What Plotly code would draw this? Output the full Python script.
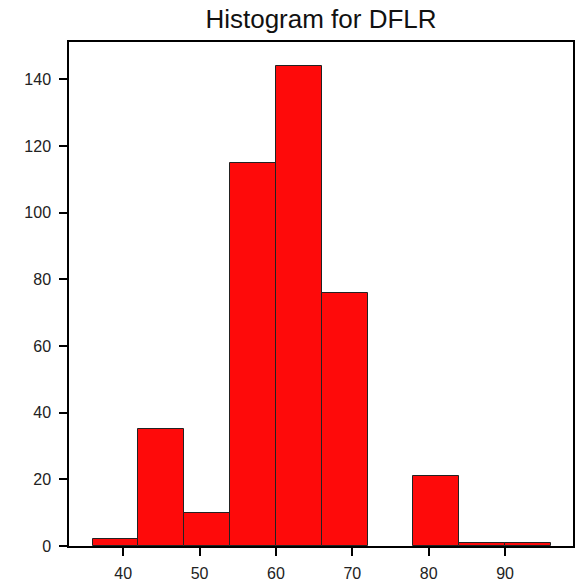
import plotly.graph_objects as go

bin_edges = [36, 42, 48, 54, 60, 66, 72, 78, 84, 90, 96]
counts = [2, 35, 10, 115, 144, 76, 0, 21, 1, 1]
x_ticks = [40, 50, 60, 70, 80, 90]
y_ticks = [0, 20, 40, 60, 80, 100, 120, 140]

centers = [(a + b) / 2 for a, b in zip(bin_edges[:-1], bin_edges[1:])]
widths = [b - a for a, b in zip(bin_edges[:-1], bin_edges[1:])]
edge_w = [1 if c > 0 else 0 for c in counts]

fig = go.Figure(go.Bar(
    x=centers, y=counts, width=widths,
    marker=dict(color="#fe0a0a", line=dict(color="#222222", width=edge_w)),
    hoverinfo="skip",
))

W, H = 584, 585
fig.update_layout(
    width=W, height=H,
    margin=dict(l=69, r=11, t=42, b=39),
    paper_bgcolor="white", plot_bgcolor="white",
    font=dict(family="Liberation Sans, Arial, sans-serif", color="#222222", size=16),
    title=dict(text="Histogram for DFLR", x=0.5, xref="paper", xanchor="center",
               y=1 - 19 / H, yref="container", yanchor="middle",
               font=dict(size=26, color="#111111")),
    showlegend=False,
    bargap=0,
)
fig.update_xaxes(range=[32.9, 98.9], tickvals=x_ticks, ticks="outside", ticklen=8,
                 tickcolor="black", tickwidth=1.5, showline=True, linecolor="black", linewidth=1.5,
                 mirror=True, showgrid=False, zeroline=False, automargin=False,
                 ticklabelstandoff=4)
fig.update_yaxes(range=[0, 151.2], tickvals=y_ticks, ticks="outside", ticklen=8,
                 tickcolor="black", tickwidth=1.5, showline=True, linecolor="black", linewidth=1.5,
                 mirror=True, showgrid=False, zeroline=False, automargin=False,
                 ticklabelstandoff=5)

fig.write_html("out.html", config={"displayModeBar": False},
               post_script="document.body.style.margin='0';")
